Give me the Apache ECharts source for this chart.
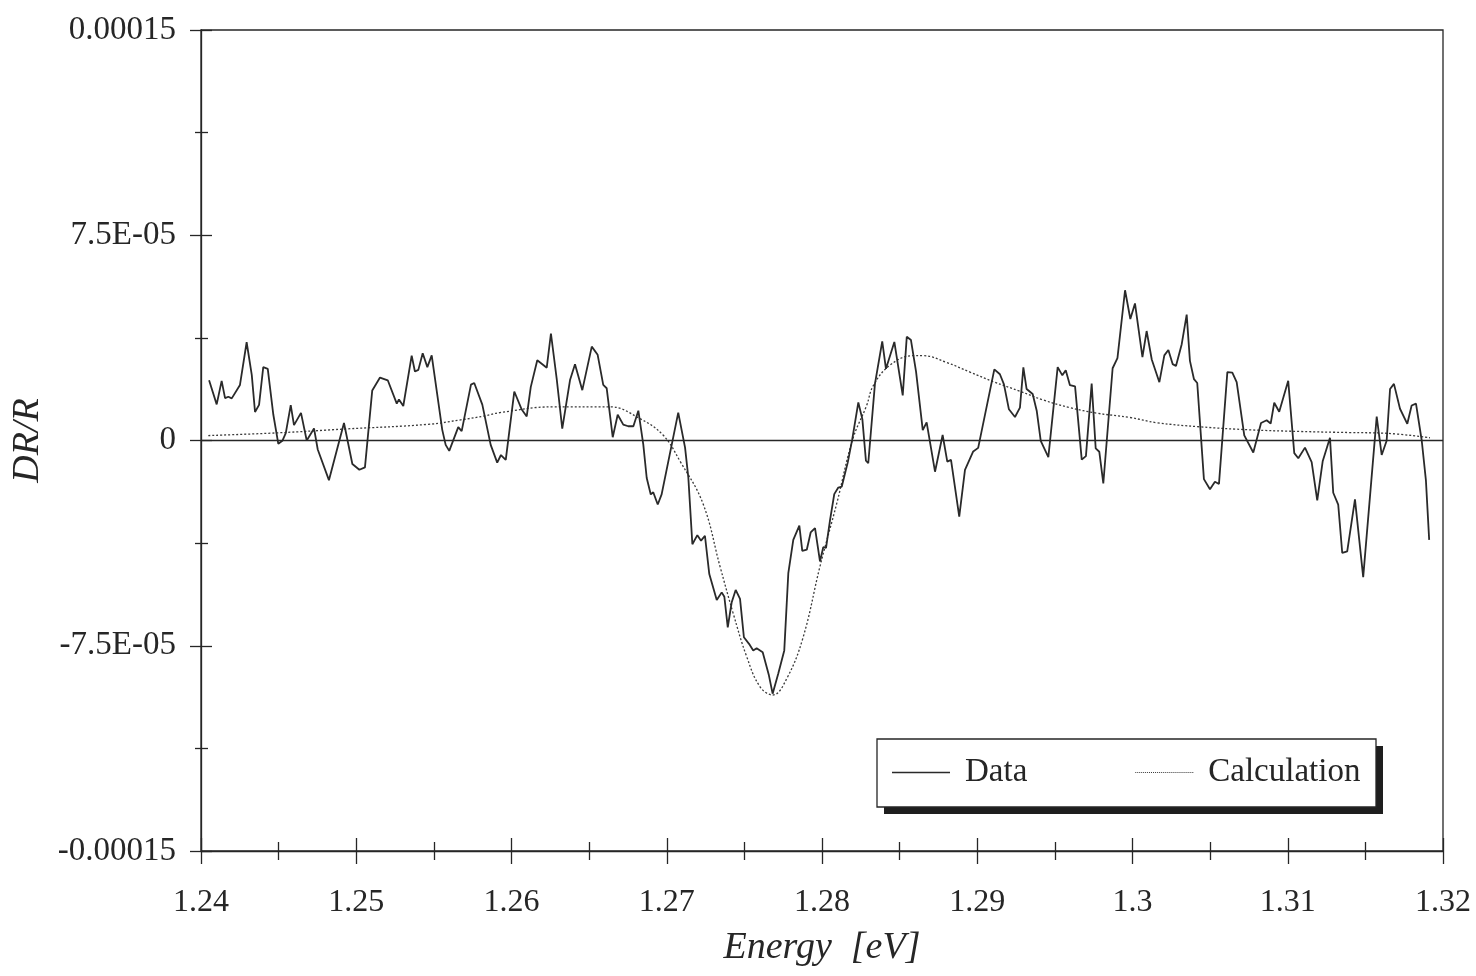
<!DOCTYPE html>
<html><head><meta charset="utf-8">
<script src="https://cdn.jsdelivr.net/npm/echarts@6/dist/echarts.min.js"></script>
<style>html,body{margin:0;padding:0;background:#fff}#c{width:1476px;height:976px}</style>
</head><body><div id="c"></div>
<script>
// Energy (eV) and DR/R (units of 1e-5) for the measured data
const dataE = [1.24052,1.24101,1.24133,1.24155,1.24176,1.24198,1.24251,1.24294,1.24327,1.24348,1.24374,1.24401,1.24430,1.24466,1.24498,1.24524,1.24546,1.24578,1.24599,1.24644,1.24681,1.24728,1.24752,1.24824,1.24921,1.24975,1.25020,1.25056,1.25103,1.25153,1.25203,1.25261,1.25275,1.25303,1.25357,1.25378,1.25400,1.25428,1.25458,1.25486,1.25554,1.25576,1.25599,1.25657,1.25679,1.25739,1.25760,1.25812,1.25866,1.25908,1.25932,1.25963,1.26018,1.26066,1.26098,1.26124,1.26166,1.26227,1.26254,1.26291,1.26327,1.26377,1.26409,1.26456,1.26517,1.26555,1.26591,1.26613,1.26652,1.26684,1.26720,1.26752,1.26785,1.26817,1.26849,1.26871,1.26897,1.26913,1.26942,1.26967,1.27074,1.27118,1.27139,1.27165,1.27197,1.27221,1.27246,1.27274,1.27322,1.27354,1.27371,1.27393,1.27418,1.27444,1.27472,1.27497,1.27530,1.27557,1.27579,1.27618,1.27658,1.27682,1.27718,1.27757,1.27783,1.27815,1.27854,1.27873,1.27902,1.27927,1.27955,1.27987,1.28008,1.28026,1.28052,1.28079,1.28105,1.28127,1.28166,1.28195,1.28234,1.28260,1.28283,1.28298,1.28341,1.28388,1.28412,1.28466,1.28520,1.28546,1.28573,1.28606,1.28649,1.28674,1.28728,1.28777,1.28807,1.28831,1.28884,1.28921,1.28974,1.29006,1.29110,1.29146,1.29172,1.29204,1.29243,1.29275,1.29297,1.29318,1.29357,1.29383,1.29409,1.29458,1.29518,1.29548,1.29570,1.29597,1.29630,1.29673,1.29700,1.29737,1.29763,1.29786,1.29812,1.29872,1.29903,1.29952,1.29986,1.30016,1.30064,1.30091,1.30124,1.30173,1.30205,1.30231,1.30259,1.30280,1.30317,1.30349,1.30370,1.30396,1.30417,1.30460,1.30499,1.30531,1.30557,1.30611,1.30643,1.30671,1.30720,1.30778,1.30828,1.30864,1.30890,1.30913,1.30945,1.31003,1.31042,1.31068,1.31111,1.31154,1.31190,1.31225,1.31272,1.31293,1.31325,1.31351,1.31383,1.31433,1.31486,1.31573,1.31605,1.31637,1.31659,1.31684,1.31723,1.31770,1.31798,1.31826,1.31863,1.31890,1.31911];
const dataV = [2.20,1.32,2.18,1.55,1.60,1.54,2.03,3.59,2.40,1.04,1.30,2.68,2.62,0.94,-0.12,-0.01,0.27,1.29,0.56,1.01,0.00,0.44,-0.33,-1.45,0.64,-0.86,-1.07,-0.98,1.83,2.30,2.20,1.35,1.50,1.26,3.10,2.52,2.58,3.19,2.68,3.11,0.39,-0.16,-0.38,0.49,0.34,2.04,2.10,1.31,-0.16,-0.81,-0.53,-0.71,1.79,1.13,0.88,1.95,2.93,2.66,3.91,2.26,0.43,2.21,2.79,1.84,3.43,3.13,2.03,1.91,0.12,0.94,0.58,0.52,0.52,1.09,-0.15,-1.37,-1.97,-1.89,-2.34,-1.97,1.02,-0.26,-1.35,-3.79,-3.46,-3.66,-3.48,-4.88,-5.83,-5.55,-5.71,-6.83,-5.92,-5.46,-5.79,-7.19,-7.43,-7.67,-7.59,-7.74,-8.58,-9.25,-8.52,-7.67,-4.85,-3.63,-3.11,-4.03,-3.99,-3.36,-3.20,-4.42,-3.90,-3.92,-2.90,-1.96,-1.72,-1.69,-0.80,0.05,1.39,0.78,-0.74,-0.83,2.07,3.62,2.62,3.60,1.65,3.79,3.67,2.51,0.38,0.66,-1.14,0.20,-0.77,-0.71,-2.78,-1.07,-0.40,-0.27,2.60,2.42,2.05,1.14,0.86,1.20,2.67,1.88,1.70,1.09,-0.01,-0.61,2.68,2.38,2.57,2.02,1.98,-0.70,-0.57,2.08,-0.29,-0.41,-1.57,2.64,3.01,5.49,4.44,5.01,3.05,4.00,2.96,2.13,3.11,3.31,2.79,2.72,3.52,4.60,2.91,2.24,2.10,-1.41,-1.78,-1.51,-1.59,2.50,2.48,2.13,0.19,-0.44,0.64,0.74,0.62,1.38,1.05,2.18,-0.46,-0.65,-0.26,-0.79,-2.19,-0.76,0.10,-1.91,-2.34,-4.11,-4.05,-2.15,-4.99,0.87,-0.53,-0.01,1.88,2.07,1.16,0.61,1.28,1.35,0.00,-1.46,-3.63];
// Calculated curve
const calcE = [1.24047,1.24496,1.24927,1.25462,1.25679,1.25829,1.25926,1.26267,1.26634,1.26827,1.26976,1.27085,1.27233,1.27343,1.27427,1.27515,1.27601,1.27683,1.27773,1.27878,1.27987,1.28095,1.28198,1.28287,1.28330,1.28437,1.28586,1.28650,1.28803,1.28953,1.29103,1.29275,1.29425,1.29597,1.29769,1.29984,1.30156,1.30435,1.30757,1.31079,1.31401,1.31613,1.31916];
const calcV = [0.18,0.28,0.42,0.59,0.76,0.90,1.02,1.23,1.23,0.80,0.20,-0.75,-2.30,-4.60,-6.30,-7.90,-9.00,-9.30,-8.70,-7.20,-4.60,-2.30,0.05,1.27,2.00,2.75,3.10,3.10,2.85,2.50,2.15,1.80,1.48,1.20,1.00,0.84,0.65,0.50,0.39,0.33,0.29,0.27,0.10];
const yTickLabels = ['-0.00015','-7.5E-05','0','7.5E-05','0.00015'];
const seriesNames = ['Data','Calculation'];
const SCALE = 1e-5;

const font = '"Liberation Serif", "DejaVu Serif", serif';
const ink = '#262626';
const pairs = (xs, ys) => xs.map((x, i) => [x, ys[i] * SCALE]);

// dotted legend sample path
let dotPath = 'path://';
for (let k = 0; k < 60; k += 2) dotPath += 'M' + k + ',0h1v1h-1z';

const chart = echarts.init(document.getElementById('c'), null, {renderer: 'canvas'});
const xCommon = {type: 'value', min: 1.24, max: 1.32, interval: 0.01, gridIndex: 0};
const yCommon = {type: 'value', min: -0.00015, max: 0.00015, interval: 0.000075, gridIndex: 0};
chart.setOption({
  backgroundColor: '#ffffff',
  animation: false,
  grid: {left: 201, right: 33, top: 30, bottom: 125, show: true, borderColor: ink, borderWidth: 1.3, backgroundColor: 'transparent'},
  xAxis: [
    Object.assign({}, xCommon, {
      position: 'bottom',
      name: 'Energy  [eV]', nameLocation: 'middle', nameGap: 78,
      nameTextStyle: {fontFamily: font, fontStyle: 'italic', fontSize: 38, color: ink},
      axisLine: {show: true, onZero: false, lineStyle: {color: ink, width: 1.3}},
      axisTick: {show: true, inside: false, length: 13, lineStyle: {color: ink, width: 1.3}},
      minorTick: {show: true, splitNumber: 2, length: 9, lineStyle: {color: ink, width: 1.3}},
      splitLine: {show: false},
      axisLabel: {
        margin: 36, fontFamily: font, fontSize: 32, color: ink,
        formatter: v => String(parseFloat(v.toFixed(3)))
      }
    }),
    Object.assign({}, xCommon, {
      position: 'bottom',
      axisLine: {show: false, onZero: false},
      axisTick: {show: true, inside: true, length: 13, lineStyle: {color: ink, width: 1.3}},
      minorTick: {show: true, splitNumber: 2, length: 9, lineStyle: {color: ink, width: 1.3}},
      axisLabel: {show: false}, splitLine: {show: false}
    })
  ],
  yAxis: [
    Object.assign({}, yCommon, {
      position: 'left',
      name: 'DR/R', nameLocation: 'middle', nameGap: 151,
      nameTextStyle: {fontFamily: font, fontStyle: 'italic', fontSize: 38, color: ink},
      axisLine: {show: true, onZero: false, lineStyle: {color: ink, width: 1.3}},
      axisTick: {show: true, inside: false, length: 11, lineStyle: {color: ink, width: 1.3}},
      minorTick: {show: true, splitNumber: 2, length: 6, lineStyle: {color: ink, width: 1.3}},
      splitLine: {show: false},
      axisLabel: {margin: 25, fontFamily: font, fontSize: 33, color: ink, formatter: (v, i) => yTickLabels[i]}
    }),
    Object.assign({}, yCommon, {
      position: 'left',
      axisLine: {show: false, onZero: false},
      axisTick: {show: true, inside: true, length: 11, lineStyle: {color: ink, width: 1.3}},
      minorTick: {show: true, splitNumber: 2, length: 7, lineStyle: {color: ink, width: 1.3}},
      axisLabel: {show: false}, splitLine: {show: false}
    })
  ],
  graphic: [
    {type: 'rect', z: 10, shape: {x: 884, y: 746, width: 499, height: 68}, style: {fill: '#1e1e1e'}},
    {type: 'rect', z: 11, shape: {x: 877, y: 739, width: 499, height: 68}, style: {fill: '#ffffff', stroke: ink, lineWidth: 1.3}}
  ],
  legend: {
    z: 20,
    data: [
      {name: seriesNames[0], icon: 'rect'},
      {name: seriesNames[1], icon: dotPath}
    ],
    left: 892, top: 756,
    padding: 0,
    itemGap: 108, itemWidth: 58, itemHeight: 1.6,
    textStyle: {fontFamily: font, fontSize: 33, color: ink, padding: [0, 0, 0, 10]}
  },
  series: [
    {
      name: seriesNames[0], type: 'line', xAxisIndex: 0, yAxisIndex: 0,
      data: pairs(dataE, dataV), symbol: 'none', showSymbol: false,
      lineStyle: {color: '#2a2a2a', width: 1.8},
      itemStyle: {color: '#2a2a2a'},
      markLine: {
        silent: true, symbol: 'none', label: {show: false},
        lineStyle: {color: ink, type: 'solid', width: 1.4},
        data: [{yAxis: 0}]
      },
      z: 3
    },
    {
      name: seriesNames[1], type: 'line', xAxisIndex: 0, yAxisIndex: 0,
      data: pairs(calcE, calcV), symbol: 'none', showSymbol: false, smooth: 0.4,
      lineStyle: {color: '#3a3a3a', width: 1.3, type: [2, 2]},
      itemStyle: {color: '#3a3a3a'},
      z: 2
    }
  ]
});
</script>
</body></html>
